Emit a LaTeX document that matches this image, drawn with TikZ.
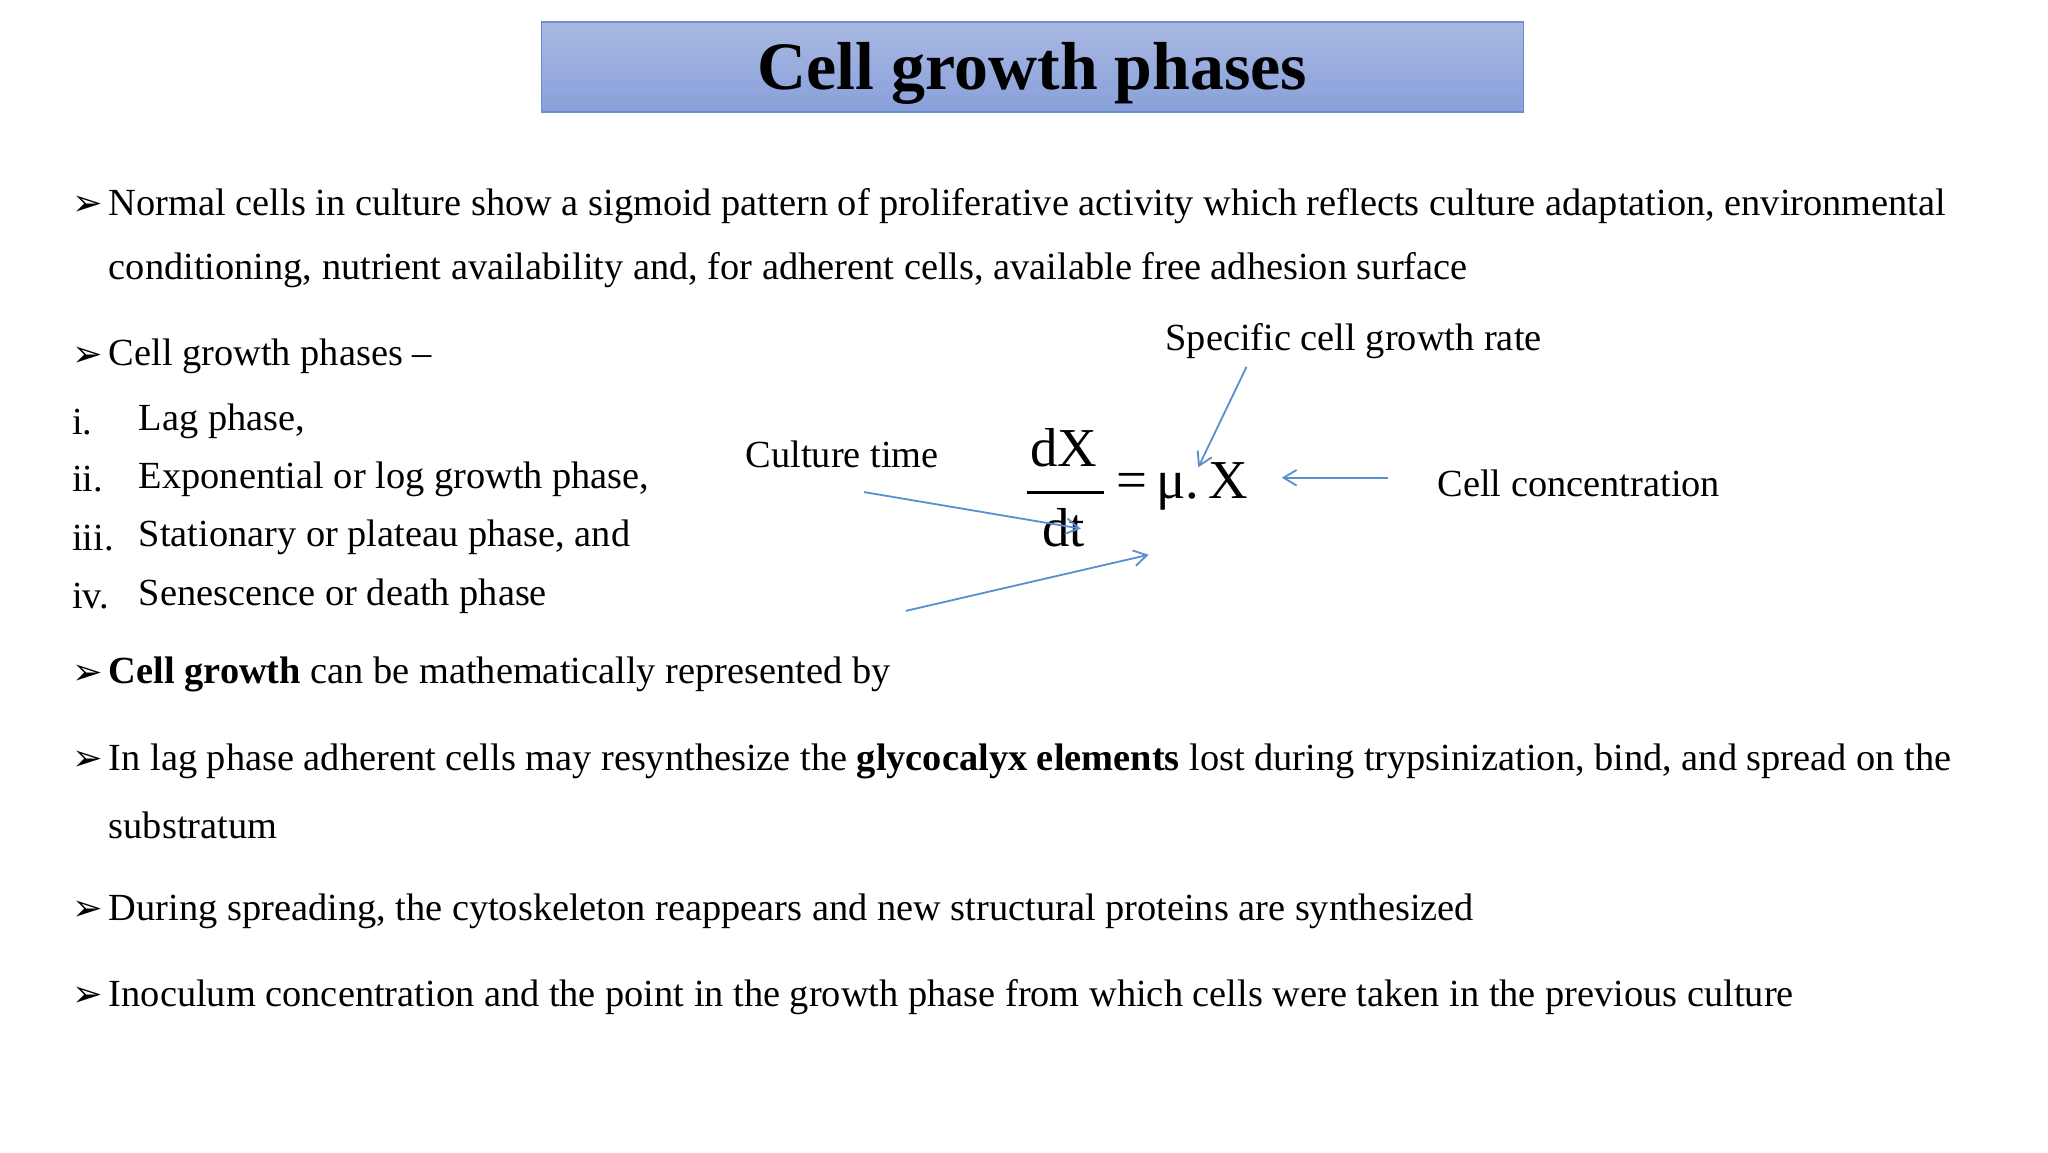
\documentclass[tikz,border=0pt]{standalone}
\usepackage{fontspec}
\setmainfont{Liberation Serif}
\newfontfamily\bulfont{DejaVu Sans}
\usetikzlibrary{arrows.meta}
\definecolor{arr}{HTML}{5B8FD0}
\begin{document}
\begin{tikzpicture}[x=0.5pt,y=-0.5pt,
  txt/.style={anchor=west,inner sep=0pt,yshift=-1.5pt,font=\fontsize{14.7}{17}\selectfont},
  bul/.style={anchor=west,inner sep=0pt,yshift=-1.5pt,font=\bulfont\fontsize{14}{15}\selectfont},
  lab/.style={inner sep=0pt,yshift=-1pt,font=\fontsize{14.7}{17}\selectfont},
  eq/.style={inner sep=0pt,font=\fontsize{21}{24}\selectfont},
  pt/.style={draw=arr,line width=0.7pt,-{Straight Barb[length=5pt,width=6pt]}}]
\useasboundingbox (0,0) rectangle (1569,883);
\shade[top color={rgb,255:red,168;green,184;blue,226}, bottom color={rgb,255:red,136;green,160;blue,218}] (415,17) rectangle (1167,86);
\draw[draw={rgb,255:red,110;green,140;blue,210},line width=0.6pt] (415,17) rectangle (1167,86);
\node[inner sep=0pt,yshift=-2pt,font=\bfseries\fontsize{26}{28}\selectfont] (title) at (791,52) {Cell growth phases};

\node[bul] (b1) at (55,155) {➢};
\node[txt] (t1) at (83,155) {Normal cells in culture show a sigmoid pattern of proliferative activity which reflects culture adaptation, environmental};
\node[txt] (t1b) at (83,204) {conditioning, nutrient availability and, for adherent cells, available free adhesion surface};
\node[bul] (b2) at (55,270) {➢};
\node[txt] (t2) at (83,270) {Cell growth phases --};
\node[txt] (r1) at (55,320) {i.};
\node[txt] (l1) at (106,320) {Lag phase,};
\node[txt] (r2) at (55,364) {ii.};
\node[txt] (l2) at (106,364) {Exponential or log growth phase,};
\node[txt] (r3) at (55,409) {iii.};
\node[txt] (l3) at (106,409) {Stationary or plateau phase, and};
\node[txt] (r4) at (55,454) {iv.};
\node[txt] (l4) at (106,454) {Senescence or death phase};
\node[bul] (b3) at (55,514) {➢};
\node[txt] (t3) at (83,514) {\textbf{Cell growth} can be mathematically represented by};
\node[bul] (b4) at (55,580) {➢};
\node[txt] (t4) at (83,580) {In lag phase adherent cells may resynthesize the \textbf{glycocalyx elements} lost during trypsinization, bind, and spread on the};
\node[txt] (t4b) at (83,629) {substratum};
\node[bul] (b5) at (55,695) {➢};
\node[txt] (t5) at (83,695) {During spreading, the cytoskeleton reappears and new structural proteins are synthesized};
\node[bul] (b6) at (55,761) {➢};
\node[txt] (t6) at (83,761) {Inoculum concentration and the point in the growth phase from which cells were taken in the previous culture};

\node[eq] (dx) at (815,343) {dX};
\draw[line width=1.2pt] (787,377) -- (846,377);
\node[eq] (dt) at (815,404) {dt};
\node[eq,anchor=west] (rhs) at (855,373) {=\,μ.\,X};

\node[lab] (spec) at (1037,259) {Specific cell growth rate};
\node[lab,anchor=west] (ct) at (571,346) {Culture time};
\node[lab,anchor=west] (cc) at (1101,368) {Cell concentration};
\coordinate (s1) at (955,281); \coordinate (s2) at (918,358);
\coordinate (c1) at (1063,366); \coordinate (c2) at (982,366);
\coordinate (u1) at (662,377); \coordinate (u2) at (828,405);
\coordinate (v1) at (694,468); \coordinate (v2) at (880,425);
\draw[pt] (s1) -- (s2);
\draw[pt] (c1) -- (c2);
\draw[pt] (u1) -- (u2);
\draw[pt] (v1) -- (v2);
\end{tikzpicture}
\end{document}
